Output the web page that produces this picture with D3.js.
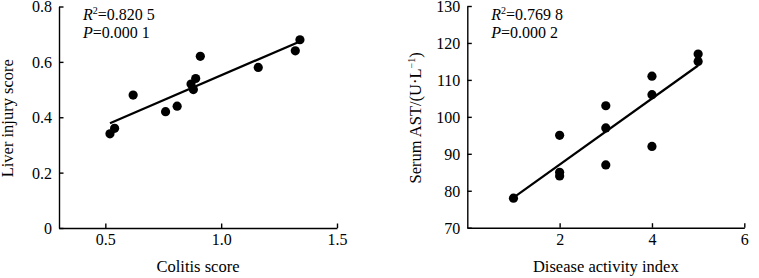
<!DOCTYPE html>
<html>
<head>
<meta charset="utf-8">
<script src="https://cdn.jsdelivr.net/npm/d3@7/dist/d3.min.js"></script>
<style>
  html, body { margin: 0; padding: 0; background: #fff; }
  svg { display: block; }
  text { font-family: "Times New Roman", "Liberation Serif", serif; fill: #000; }
</style>
</head>
<body>
<svg id="chart" width="759" height="278"></svg>
<script>
// ---- Data: left panel (Colitis score vs Liver injury score)
const colitisScore = [0.52, 0.54, 0.62, 0.76, 0.81, 0.87, 0.88, 0.89, 0.91, 1.16, 1.32, 1.34];
const liverInjury  = [0.34, 0.36, 0.48, 0.42, 0.44, 0.52, 0.50, 0.54, 0.62, 0.58, 0.64, 0.68];
const leftXTicks = [0.5, 1.0, 1.5];
const leftXTickLabels = ["0.5", "1.0", "1.5"];
const leftYTicks = [0, 0.2, 0.4, 0.6, 0.8];
const leftYTickLabels = ["0", "0.2", "0.4", "0.6", "0.8"];
const leftStats = { r2: "=0.820 5", p: "=0.000 1" };

// ---- Data: right panel (Disease activity index vs Serum AST)
const diseaseIndex = [1, 2, 2, 2, 3, 3, 3, 4, 4, 4, 5, 5];
const serumAST     = [78, 95, 85, 84, 103, 97, 87, 111, 106, 92, 117, 115];
const rightXTicks = [2, 4, 6];
const rightYTicks = [70, 80, 90, 100, 110, 120, 130];
const rightStats = { r2: "=0.769 8", p: "=0.000 2" };

const svg = d3.select("#chart");
const FS = 16;

function ols(xs, ys) {
  const mx = d3.mean(xs), my = d3.mean(ys);
  let sxy = 0, sxx = 0;
  xs.forEach((x, i) => { sxy += (x - mx) * (ys[i] - my); sxx += (x - mx) * (x - mx); });
  const b = sxy / sxx;
  return { b, a: my - b * mx };
}

function panel(opts) {
  const { xs, ys, xDomain, yDomain, xRange, yRange, xTicks, xFmt, yTicks, yFmt, stats, xTitle, yTitle, yTitleX } = opts;
  const x = d3.scaleLinear().domain(xDomain).range(xRange);
  const y = d3.scaleLinear().domain(yDomain).range(yRange);
  const g = svg.append("g");

  const xAxis = d3.axisBottom(x).tickValues(xTicks).tickFormat(xFmt)
    .tickSizeInner(-4.5).tickSizeOuter(0).tickPadding(6);
  const yAxis = d3.axisLeft(y).tickValues(yTicks).tickFormat(yFmt)
    .tickSizeInner(-4.5).tickSizeOuter(0).tickPadding(7);

  const gx = g.append("g").attr("transform", `translate(0,${yRange[0]})`).call(xAxis);
  const gy = g.append("g").attr("transform", `translate(${xRange[0]},0)`).call(yAxis);
  [gx, gy].forEach(a => {
    a.selectAll("path, line").attr("stroke", "#000").attr("stroke-width", 1.4);
    a.selectAll("text").attr("font-size", FS).attr("font-family", '"Times New Roman", "Liberation Serif", serif').attr("fill", "#000");
  });
  gy.selectAll("text").attr("dy", "0.34em");

  // regression line
  const { a, b } = ols(xs, ys);
  const x0 = d3.min(xs), x1 = d3.max(xs);
  g.append("line")
    .attr("x1", x(x0)).attr("y1", y(a + b * x0))
    .attr("x2", x(x1)).attr("y2", y(a + b * x1))
    .attr("stroke", "#000").attr("stroke-width", 2.2);

  // points
  g.selectAll("circle.pt").data(xs.map((v, i) => [v, ys[i]])).enter()
    .append("circle").attr("class", "pt")
    .attr("cx", d => x(d[0])).attr("cy", d => y(d[1])).attr("r", 4.6)
    .attr("fill", "#000");

  // stats text
  const tx = xRange[0] + 24;
  const t1 = g.append("text").attr("x", tx).attr("y", 19.5).attr("font-size", FS);
  t1.append("tspan").attr("font-style", "italic").text("R");
  t1.append("tspan").attr("font-size", 10).attr("dy", -6).text("2");
  t1.append("tspan").attr("dy", 6).text(stats.r2);
  const t2 = g.append("text").attr("x", tx).attr("y", 37.5).attr("font-size", FS);
  t2.append("tspan").attr("font-style", "italic").text("P");
  t2.append("tspan").text(stats.p);

  // axis titles
  g.append("text")
    .attr("x", (xRange[0] + xRange[1]) / 2).attr("y", 272)
    .attr("text-anchor", "middle").attr("font-size", 16.5).text(xTitle);
  const yt = g.append("text")
    .attr("transform", `translate(${yTitleX},${(yRange[0] + yRange[1]) / 2 + 1}) rotate(-90)`)
    .attr("text-anchor", "middle").attr("font-size", 16.5);
  yTitle(yt);
}

panel({
  xs: colitisScore, ys: liverInjury,
  xDomain: [0.3, 1.5], yDomain: [0, 0.8],
  xRange: [59, 337], yRange: [228, 6.5],
  xTicks: leftXTicks, xFmt: (d, i) => leftXTickLabels[i],
  yTicks: leftYTicks, yFmt: (d, i) => leftYTickLabels[i],
  stats: leftStats,
  xTitle: "Colitis score",
  yTitle: t => t.text("Liver injury score"),
  yTitleX: 13
});

panel({
  xs: diseaseIndex, ys: serumAST,
  xDomain: [0, 6], yDomain: [70, 130],
  xRange: [467.3, 744.3], yRange: [227.7, 6],
  xTicks: rightXTicks, xFmt: d => String(d),
  yTicks: rightYTicks, yFmt: d => String(d),
  stats: rightStats,
  xTitle: "Disease activity index",
  yTitle: t => {
    t.append("tspan").text("Serum AST/(U·L");
    t.append("tspan").attr("font-size", 10).attr("dy", -6).text("−1");
    t.append("tspan").attr("dy", 6).text(")");
  },
  yTitleX: 421
});
</script>
</body>
</html>
